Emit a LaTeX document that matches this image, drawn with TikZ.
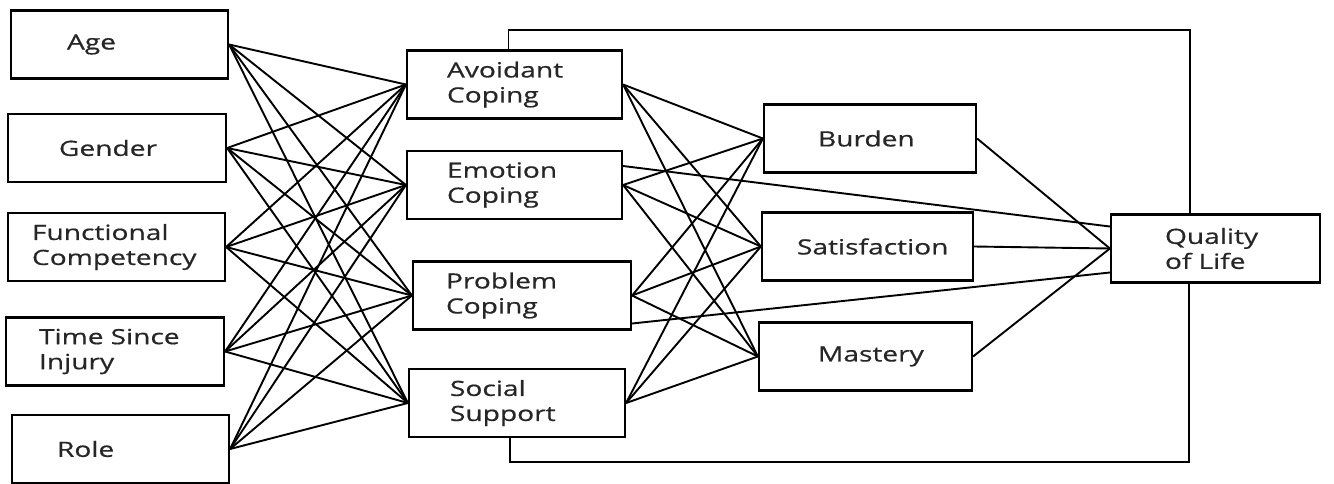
\documentclass[tikz,border=0pt]{standalone}
\usepackage{fontspec}
\setmainfont[FakeStretch=1.34,FakeBold=0.6]{Open Sans}
\begin{document}
\begin{tikzpicture}[x=1pt,y=-1pt,
    box/.code 2 args={\pgfmathsetmacro\boxtxt{#2-2*#1}%
      \tikzset{draw, line width=2.2pt, inner xsep=#1pt, inner ysep=0pt,
        text width/.expanded=\boxtxt pt, align=left, minimum height=68pt,
        font=\fontsize{21}{25}\selectfont, text=black!85}}]
      \useasboundingbox (0,0) rectangle (1334,483);
      \draw
        (119.5,44.5) node[box={56}{217}] (age){Age}
        (117,148) node[box={51}{218}] (gender){Gender}
        (116.5,247) node[box={24}{217}] (func){Functional\\Competency}
        (115,351.5) node[box={33}{218}] (time){Time Since\\Injury}
        (120.5,449) node[box={45}{217}] (role){Role}
        (514.5,84.5) node[box={40}{215}] (avoid){Avoidant\\Coping}
        (514.5,185) node[box={40}{215}] (emotion){Emotion\\Coping}
        (522,295.5) node[box={33}{218}] (problem){Problem\\Coping}
        (517,403) node[box={41}{216}] (social){Social\\Support}
        (870,138.5) node[box={54}{212}] (burden){Burden}
        (867.5,246.5) node[box={35}{211}] (satis){Satisfaction}
        (865.5,356.5) node[box={59}{213}] (mastery){Mastery}
        (1215.5,248.5) node[box={54}{209}] (qol){Quality\\of Life};
      \coordinate (top) at (1190,30);
      \coordinate (bottom) at (1189,462);
      \begin{scope}[line width=1.9pt]
        \draw (age.east) to (avoid.west);
        \draw (age.east) to (emotion.west);
        \draw (age.east) to (problem.west);
        \draw (age.east) to (social.west);
        \draw (gender.east) to (avoid.west);
        \draw (gender.east) to (emotion.west);
        \draw (gender.east) to (problem.west);
        \draw (gender.east) to (social.west);
        \draw (func.east) to (avoid.west);
        \draw (func.east) to (emotion.west);
        \draw (func.east) to (problem.west);
        \draw (func.east) to (social.west);
        \draw (time.east) to (avoid.west);
        \draw (time.east) to (emotion.west);
        \draw (time.east) to (problem.west);
        \draw (time.east) to (social.west);
        \draw (role.east) to (avoid.west);
        \draw (role.east) to (emotion.west);
        \draw (role.east) to (problem.west);
        \draw (role.east) to (social.west);
        \draw (avoid.east) to (burden.west);
        \draw (avoid.east) to (satis.west);
        \draw (avoid.east) to (mastery.west);
        \draw (emotion.east) to (burden.west);
        \draw (emotion.east) to (satis.west);
        \draw (emotion.east) to (mastery.west);
        \draw (problem.east) to (burden.west);
        \draw (problem.east) to (satis.west);
        \draw (problem.east) to (mastery.west);
        \draw (social.east) to (burden.west);
        \draw (social.east) to (satis.west);
        \draw (social.east) to (mastery.west);
        \draw (burden.east) to (qol.west);
        \draw (satis.east) to (qol.west);
        \draw (mastery.east) to (qol.west);
        \draw ([yshift=19pt]emotion.east) to ([yshift=22pt]qol.west);
        \draw ([yshift=-28pt]problem.east) to ([yshift=-24pt]qol.west);
        \draw ([xshift=-6pt]avoid.north) |- (top) -- (top |- qol.north);
        \draw ([xshift=-7pt]social.south) |- (bottom) -- (bottom |- qol.south);
      \end{scope}
    \end{tikzpicture}
\end{document}
